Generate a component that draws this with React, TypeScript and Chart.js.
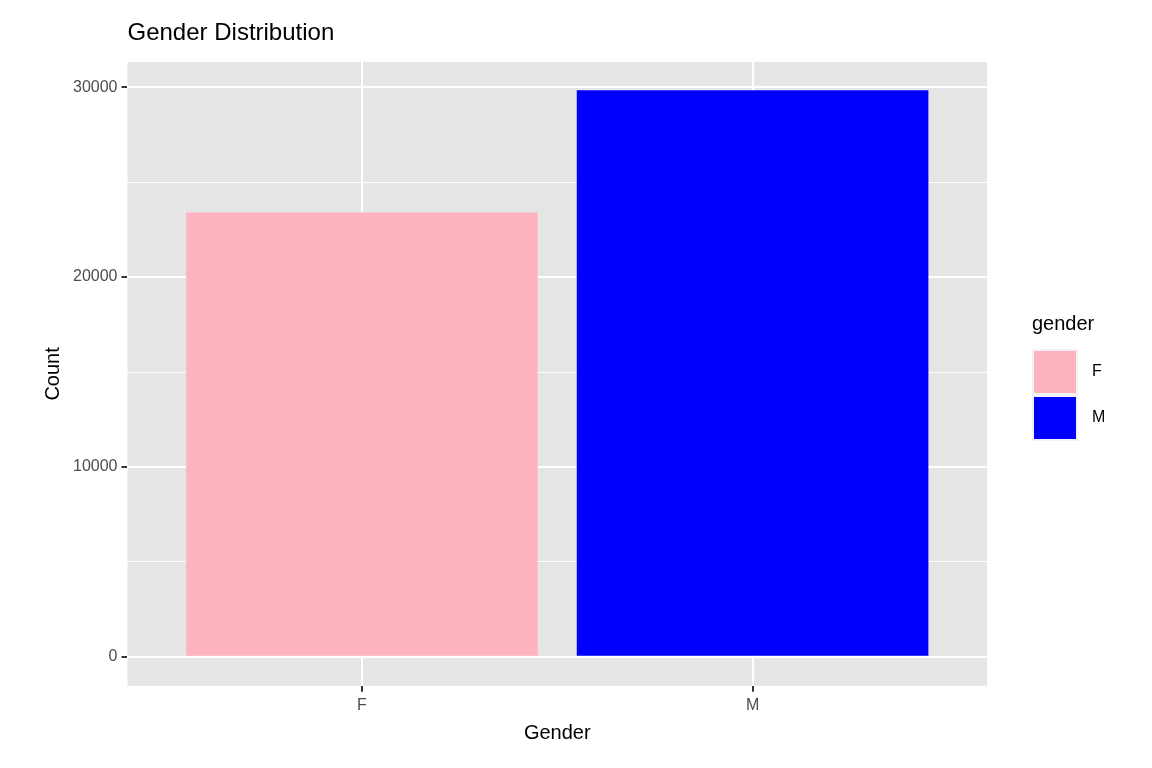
import React, { useEffect, useRef } from "react";
import { Chart, registerables } from "chart.js";
Chart.register(...registerables);

const categories = ["F", "M"];
const counts = [23400, 29840];
const colors = ["#FFB3C1", "#0000FF"];
const yTicks = [0, 10000, 20000, 30000];

const FONT = "'Liberation Sans', Arial, sans-serif";

const decor = {
  id: "decor",
  beforeDraw(chart: any) {
    const { ctx, chartArea: a } = chart;
    ctx.save();
    ctx.fillStyle = "#E5E5E5";
    ctx.fillRect(a.left, a.top, a.right - a.left, a.bottom - a.top);
    ctx.restore();
  },
  afterDraw(chart: any) {
    const { ctx, chartArea: a } = chart;
    ctx.save();
    ctx.fillStyle = "#000";
    ctx.font = `24px ${FONT}`;
    ctx.textBaseline = "alphabetic";
    ctx.fillText("Gender Distribution", a.left, 40);
    const lx = 1032;
    ctx.font = `20px ${FONT}`;
    ctx.fillText("gender", lx, 330);
    categories.forEach((c, i) => {
      const y = 349 + i * 46;
      ctx.fillStyle = "#F2F2F2";
      ctx.fillRect(lx, y, 46, 46);
      ctx.fillStyle = colors[i];
      ctx.fillRect(lx + 2, y + 2, 42, 42);
      ctx.fillStyle = "#000";
      ctx.font = `16px ${FONT}`;
      ctx.textBaseline = "middle";
      ctx.fillText(c, lx + 60, y + 23);
    });
    ctx.restore();
  },
};

export default function App() {
  const ref = useRef<HTMLCanvasElement>(null);
  useEffect(() => {
    const chart = new Chart(ref.current!, {
      type: "bar",
      data: {
        datasets: [
          {
            data: counts.map((v, i) => ({ x: i + 1, y: v })),
            backgroundColor: colors,
            borderWidth: 0,
            barPercentage: 0.9,
            categoryPercentage: 1,
          },
        ],
      },
      options: {
        animation: false,
        responsive: false,
        layout: { padding: { top: 62, right: 165, bottom: 19, left: 37 } },
        plugins: { legend: { display: false }, tooltip: { enabled: false } },
        scales: {
          x: {
            type: "linear",
            offset: false,
            min: 0.4,
            max: 2.6,
            afterBuildTicks: (s: any) => {
              s.ticks = categories.map((_, i) => ({ value: i + 1 }));
            },
            ticks: {
              callback: (v: any) => categories[Number(v) - 1] ?? "",
              color: "#4D4D4D",
              font: { family: FONT, size: 16 },
              padding: 4,
            },
            grid: { offset: false, color: "#FFFFFF", lineWidth: 2, tickColor: "#333333", tickLength: 6 },
            border: { display: false },
            title: { display: true, text: "Gender", color: "#000", font: { family: FONT, size: 20 }, padding: { top: 2 } },
          },
          y: {
            min: -1530,
            max: 31330,
            afterBuildTicks: (s: any) => {
              const t: any[] = [];
              for (let v = 0; v <= 30000; v += 5000) t.push({ value: v });
              s.ticks = t;
            },
            ticks: {
              callback: (v: any) => (yTicks.includes(Number(v)) ? String(v) : ""),
              color: "#4D4D4D",
              font: { family: FONT, size: 16 },
              padding: 4,
            },
            grid: {
              color: "#FFFFFF",
              lineWidth: (c: any) => (c.tick && c.tick.value % 10000 === 0 ? 2 : 1),
              tickColor: (c: any) => (c.tick && c.tick.value % 10000 === 0 ? "#333333" : "rgba(0,0,0,0)"),
              tickLength: 6,
            },
            border: { display: false },
            title: { display: true, text: "Count", color: "#000", font: { family: FONT, size: 20 } },
          },
        },
      },
      plugins: [decor],
    });
    return () => chart.destroy();
  }, []);
  return (
    <div style={{ position: "fixed", left: 0, top: 0, width: 1152, height: 768, background: "#fff" }}>
      <canvas ref={ref} width={1152} height={768} />
    </div>
  );
}
